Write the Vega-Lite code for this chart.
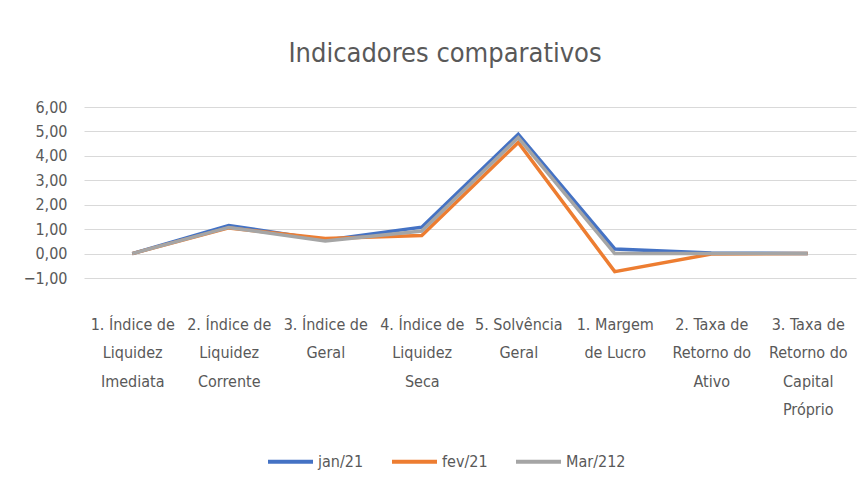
{
  "$schema": "https://vega.github.io/schema/vega-lite/v6.json",
  "autosize": "none",
  "width": 772,
  "height": 171,
  "padding": {"left": 84, "top": 107, "right": 12, "bottom": 211},
  "background": "white",
  "title": {"text": "Indicadores comparativos", "fontSize": 27, "font": "Liberation Sans Narrow, DejaVu Sans Condensed, sans-serif", "fontWeight": "normal", "color": "#595959", "offset": 31, "dx": -25},
  "config": {"view": {"stroke": null}, "font": "Liberation Sans Narrow, DejaVu Sans Condensed, sans-serif"},
  "data": {"values": [
    {"cat": "1. Índice de|Liquidez|Imediata", "o": 1, "serie": "jan/21", "v": 0.0},
    {"cat": "2. Índice de|Liquidez|Corrente", "o": 2, "serie": "jan/21", "v": 1.15},
    {"cat": "3. Índice de|Geral", "o": 3, "serie": "jan/21", "v": 0.55},
    {"cat": "4. Índice de|Liquidez|Seca", "o": 4, "serie": "jan/21", "v": 1.08},
    {"cat": "5. Solvência|Geral", "o": 5, "serie": "jan/21", "v": 4.88},
    {"cat": "1. Margem|de Lucro", "o": 6, "serie": "jan/21", "v": 0.19},
    {"cat": "2. Taxa de|Retorno do|Ativo", "o": 7, "serie": "jan/21", "v": 0.02},
    {"cat": "3. Taxa de|Retorno do|Capital|Próprio", "o": 8, "serie": "jan/21", "v": 0.0},
    {"cat": "1. Índice de|Liquidez|Imediata", "o": 1, "serie": "fev/21", "v": 0.0},
    {"cat": "2. Índice de|Liquidez|Corrente", "o": 2, "serie": "fev/21", "v": 1.05},
    {"cat": "3. Índice de|Geral", "o": 3, "serie": "fev/21", "v": 0.62},
    {"cat": "4. Índice de|Liquidez|Seca", "o": 4, "serie": "fev/21", "v": 0.74},
    {"cat": "5. Solvência|Geral", "o": 5, "serie": "fev/21", "v": 4.55},
    {"cat": "1. Margem|de Lucro", "o": 6, "serie": "fev/21", "v": -0.74},
    {"cat": "2. Taxa de|Retorno do|Ativo", "o": 7, "serie": "fev/21", "v": -0.02},
    {"cat": "3. Taxa de|Retorno do|Capital|Próprio", "o": 8, "serie": "fev/21", "v": 0.0},
    {"cat": "1. Índice de|Liquidez|Imediata", "o": 1, "serie": "Mar/212", "v": 0.0},
    {"cat": "2. Índice de|Liquidez|Corrente", "o": 2, "serie": "Mar/212", "v": 1.07},
    {"cat": "3. Índice de|Geral", "o": 3, "serie": "Mar/212", "v": 0.52},
    {"cat": "4. Índice de|Liquidez|Seca", "o": 4, "serie": "Mar/212", "v": 0.92},
    {"cat": "5. Solvência|Geral", "o": 5, "serie": "Mar/212", "v": 4.75},
    {"cat": "1. Margem|de Lucro", "o": 6, "serie": "Mar/212", "v": 0.0},
    {"cat": "2. Taxa de|Retorno do|Ativo", "o": 7, "serie": "Mar/212", "v": 0.0},
    {"cat": "3. Taxa de|Retorno do|Capital|Próprio", "o": 8, "serie": "Mar/212", "v": 0.0}
  ]},
  "mark": {"type": "line", "strokeWidth": 3.5, "strokeJoin": "miter"},
  "encoding": {
    "x": {"field": "cat", "type": "nominal", "sort": {"field": "o"},
      "scale": {"type": "point", "padding": 0.5},
      "axis": {"title": null, "labelAngle": 0, "labelExpr": "split(datum.value, '|')", "labelLineHeight": 28.5, "labelFontSize": 16, "labelColor": "#595959", "labelPadding": 38, "labelBaseline": "top", "ticks": false, "domain": false, "grid": false, "labelFont": "Liberation Sans Narrow, DejaVu Sans Condensed, sans-serif"}},
    "y": {"field": "v", "type": "quantitative",
      "scale": {"domain": [-1, 6], "nice": false, "zero": false},
      "axis": {"title": null, "values": [-1, 0, 1, 2, 3, 4, 5, 6], "labelExpr": "replace(format(datum.value, '.2f'), '.', ',')", "labelFontSize": 16, "labelColor": "#595959", "ticks": false, "domain": false, "labelPadding": 17, "gridColor": "#D9D9D9", "gridWidth": 1.2, "labelFont": "Liberation Sans Narrow, DejaVu Sans Condensed, sans-serif"}},
    "color": {"field": "serie", "type": "nominal", "sort": ["jan/21", "fev/21", "Mar/212"],
      "scale": {"domain": ["jan/21", "fev/21", "Mar/212"], "range": ["#4472C4", "#ED7D31", "#A5A5A5"]},
      "legend": {"title": null, "orient": "none", "direction": "horizontal", "legendX": 182, "legendY": 330, "symbolType": "stroke", "symbolSize": 2025, "symbolStrokeWidth": 4, "labelFontSize": 16, "labelColor": "#595959", "labelOffset": 3, "columnPadding": 20, "labelFont": "Liberation Sans Narrow, DejaVu Sans Condensed, sans-serif"}},
    "order": {"field": "o"}
  }
}
